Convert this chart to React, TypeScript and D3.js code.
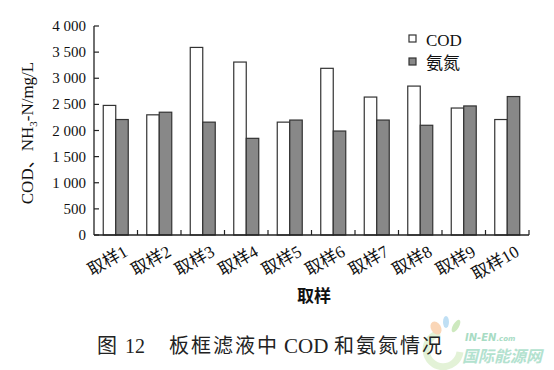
import React from "react";
import * as d3 from "d3";

const samples = ["取样1", "取样2", "取样3", "取样4", "取样5", "取样6", "取样7", "取样8", "取样9", "取样10"];
const codValues = [2480, 2300, 3590, 3310, 2160, 3190, 2640, 2850, 2430, 2210];
const nh3Values = [2210, 2350, 2160, 1850, 2200, 1990, 2200, 2100, 2470, 2650];
const yTicks = [0, 500, 1000, 1500, 2000, 2500, 3000, 3500, 4000];
const seriesNames = ["COD", "氨氮"];
const seriesColors = ["#ffffff", "#888888"];

const W = 554;
const H = 370;
const left = 94;
const right = 529;
const top = 26;
const bottom = 235;
const serif = "'Liberation Serif', 'Noto Sans CJK SC', serif";

function fmt(v: number) {
  // thousands separated by a space, like the printed figure
  return v >= 1000 ? `${Math.floor(v / 1000)} ${String(v % 1000).padStart(3, "0")}` : String(v);
}

export default function App() {
  const x = d3.scaleBand().domain(samples).range([left, right]).paddingInner(0).paddingOuter(0);
  const y = d3.scaleLinear().domain([0, 4000]).range([bottom, top]);
  const barW = 12.5;
  const series = [codValues, nh3Values];

  return (
    <svg width={W} height={H} style={{ position: "absolute", left: 0, top: 0, background: "#fff" }} fontFamily={serif}>
      {/* bars */}
      {samples.map((s, i) => {
        const cx = (x(s) as number) + x.bandwidth() / 2;
        return series.map((vals, k) => (
          <rect
            key={s + k}
            x={cx - barW + k * barW}
            y={y(vals[i])}
            width={barW}
            height={y(0) - y(vals[i])}
            fill={seriesColors[k]}
            stroke="#333"
            strokeWidth={1.2}
          />
        ));
      })}

      {/* axes */}
      <line x1={left} x2={left} y1={top} y2={bottom} stroke="#222" strokeWidth={1.3} />
      <line x1={left} x2={right} y1={bottom} y2={bottom} stroke="#222" strokeWidth={1.3} />
      {yTicks.map((t) => (
        <g key={t}>
          <line x1={left} x2={left + 5} y1={y(t)} y2={y(t)} stroke="#222" strokeWidth={1.2} />
          <text x={left - 8} y={y(t) + 5} textAnchor="end" fontSize={15} fill="#111">
            {fmt(t)}
          </text>
        </g>
      ))}
      {samples.map((s, i) =>
        i === 0 ? null : (
          <line key={s} x1={x(s)} x2={x(s)} y1={bottom} y2={bottom - 5} stroke="#222" strokeWidth={1.2} />
        )
      )}
      <line x1={right} x2={right} y1={bottom} y2={bottom - 5} stroke="#222" strokeWidth={1.2} />

      {/* x tick labels */}
      {samples.map((s) => {
        const cx = (x(s) as number) + x.bandwidth() / 2;
        return (
          <text key={s} transform={`translate(${cx + 13},${bottom + 20}) rotate(-30)`} textAnchor="end" fontSize={17} fill="#111">
            {s}
          </text>
        );
      })}

      {/* axis titles */}
      <text x={314} y={302} textAnchor="middle" fontSize={17} fontWeight="bold" fill="#111">
        取样
      </text>
      <text transform={`translate(33,${(48 + 218) / 2}) rotate(-90)`} textAnchor="middle" fontSize={17} fill="#111">
        COD、NH<tspan fontSize={11} dy={4}>3</tspan>
        <tspan dy={-4}>-N/mg/L</tspan>
      </text>

      {/* legend */}
      {seriesNames.map((n, k) => (
        <g key={n}>
          <rect x={409} y={35 + k * 23} width={7} height={7} fill={seriesColors[k]} stroke="#333" strokeWidth={1.2} />
          <text x={426} y={46 + k * 23} fontSize={17} fill="#111">
            {n}
          </text>
        </g>
      ))}

      {/* watermark logo, sits under the caption */}
      <g opacity={0.55}>
        <path d="M 440 333 A 17 17 0 1 0 460 352" fill="none" stroke="#cde9b8" strokeWidth={7} />
        <ellipse cx={436} cy={328} rx={5} ry={7} fill="#f6b67e" transform="rotate(-30 436 328)" />
        <ellipse cx={446} cy={322} rx={3} ry={6} fill="#8cc6ec" />
        <ellipse cx={456} cy={326} rx={3} ry={7} fill="#a6d88a" transform="rotate(30 456 326)" />
      </g>
      <text x={465} y={341} fill="#a8dcc4" fontFamily="'DejaVu Sans', sans-serif" fontWeight="bold" fontStyle="italic" fontSize={10}>
        IN-EN<tspan fontSize={7}>.com</tspan>
      </text>
      <text x={462} y={362} fontSize={16} fontWeight="bold" fill="#b3e2cf" fontFamily="'Noto Sans CJK SC', sans-serif" fontStyle="italic">
        国际能源网
      </text>

      {/* caption */}
      <text y={353} fontSize={20} fill="#222">
        <tspan x={97}>图</tspan>
        <tspan x={125}>12</tspan>
        <tspan x={169} letterSpacing={2}>板框滤液中</tspan>
        <tspan x={284} fontSize={21}>COD</tspan>
        <tspan x={334} letterSpacing={2}>和氨氮情况</tspan>
      </text>
    </svg>
  );
}
